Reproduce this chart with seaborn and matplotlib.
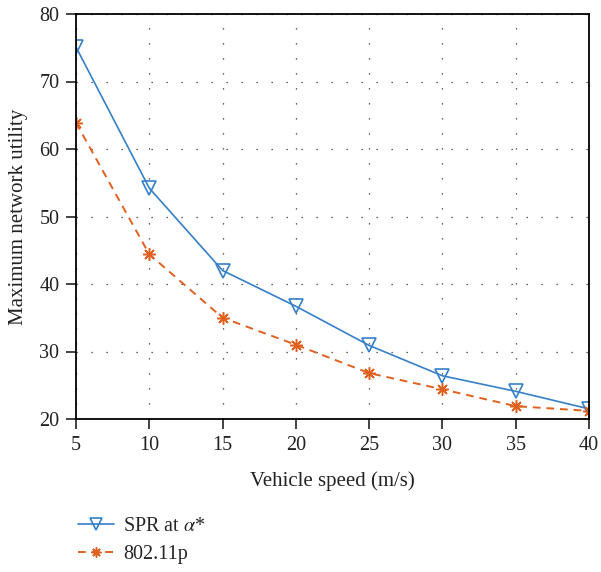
import pandas as pd
import matplotlib
matplotlib.use("Agg")
import matplotlib.pyplot as plt
import seaborn as sns

# valores
velocidad = [5, 10, 15, 20, 25, 30, 35, 40]
spr = [75.1, 54.2, 42.0, 36.7, 30.9, 26.4, 24.1, 21.5]
p80211 = [63.9, 44.4, 35.0, 31.0, 26.8, 24.4, 21.9, 21.2]

sns.set_style("ticks")
plt.rcParams['font.family'] = ['Liberation Serif', 'DejaVu Serif']
plt.rcParams['mathtext.fontset'] = 'stix'

df = pd.DataFrame({'v': velocidad, 'spr': spr, 'p': p80211})

fig = plt.figure(figsize=(6.01, 5.72), dpi=100)
ax = fig.add_axes([76 / 601, 1 - 419 / 572, (589 - 76) / 601, (419 - 14) / 572])

sns.lineplot(data=df, x='v', y='spr', ax=ax, color='#3580c6', lw=1.2,
             marker='v', markersize=10, markerfacecolor='none',
             markeredgecolor='#3580c6', markeredgewidth=1.2,
             label=r'SPR at $\alpha$*')
sns.lineplot(data=df, x='v', y='p', ax=ax, color='#e0601f', lw=1.4,
             linestyle=(0, (4, 3)), marker=(8, 2, 0), markersize=9,
             markeredgecolor='#e0601f', markeredgewidth=1.1,
             label='802.11p')

ax.set_xlim(5, 40)
ax.set_ylim(20, 80)
ax.set_xticks(velocidad)
ax.set_yticks([20, 30, 40, 50, 60, 70, 80])
ax.grid(True, color='#333333', linestyle=(0, (1, 11)), lw=0.9)
ax.tick_params(direction='out', length=7, width=1.2, labelsize=14.5,
               colors='#222222', pad=5)
for s in ax.spines.values():
    s.set_visible(True)
    s.set_linewidth(1.3)
    s.set_color('black')
ax.set_xlabel('Vehicle speed (m/s)', fontsize=15, labelpad=12, color='#222222')
ax.set_ylabel('Maximum network utility', fontsize=15, labelpad=8, color='#222222')

ax.legend(loc='upper left', bbox_to_anchor=(60 / 601, 1 - 499 / 572),
          bbox_transform=fig.transFigure, frameon=False, fontsize=14.5,
          handlelength=1.8, handletextpad=0.45, labelspacing=0.45,
          markerscale=0.8)

fig.savefig('out.png', dpi=100)
